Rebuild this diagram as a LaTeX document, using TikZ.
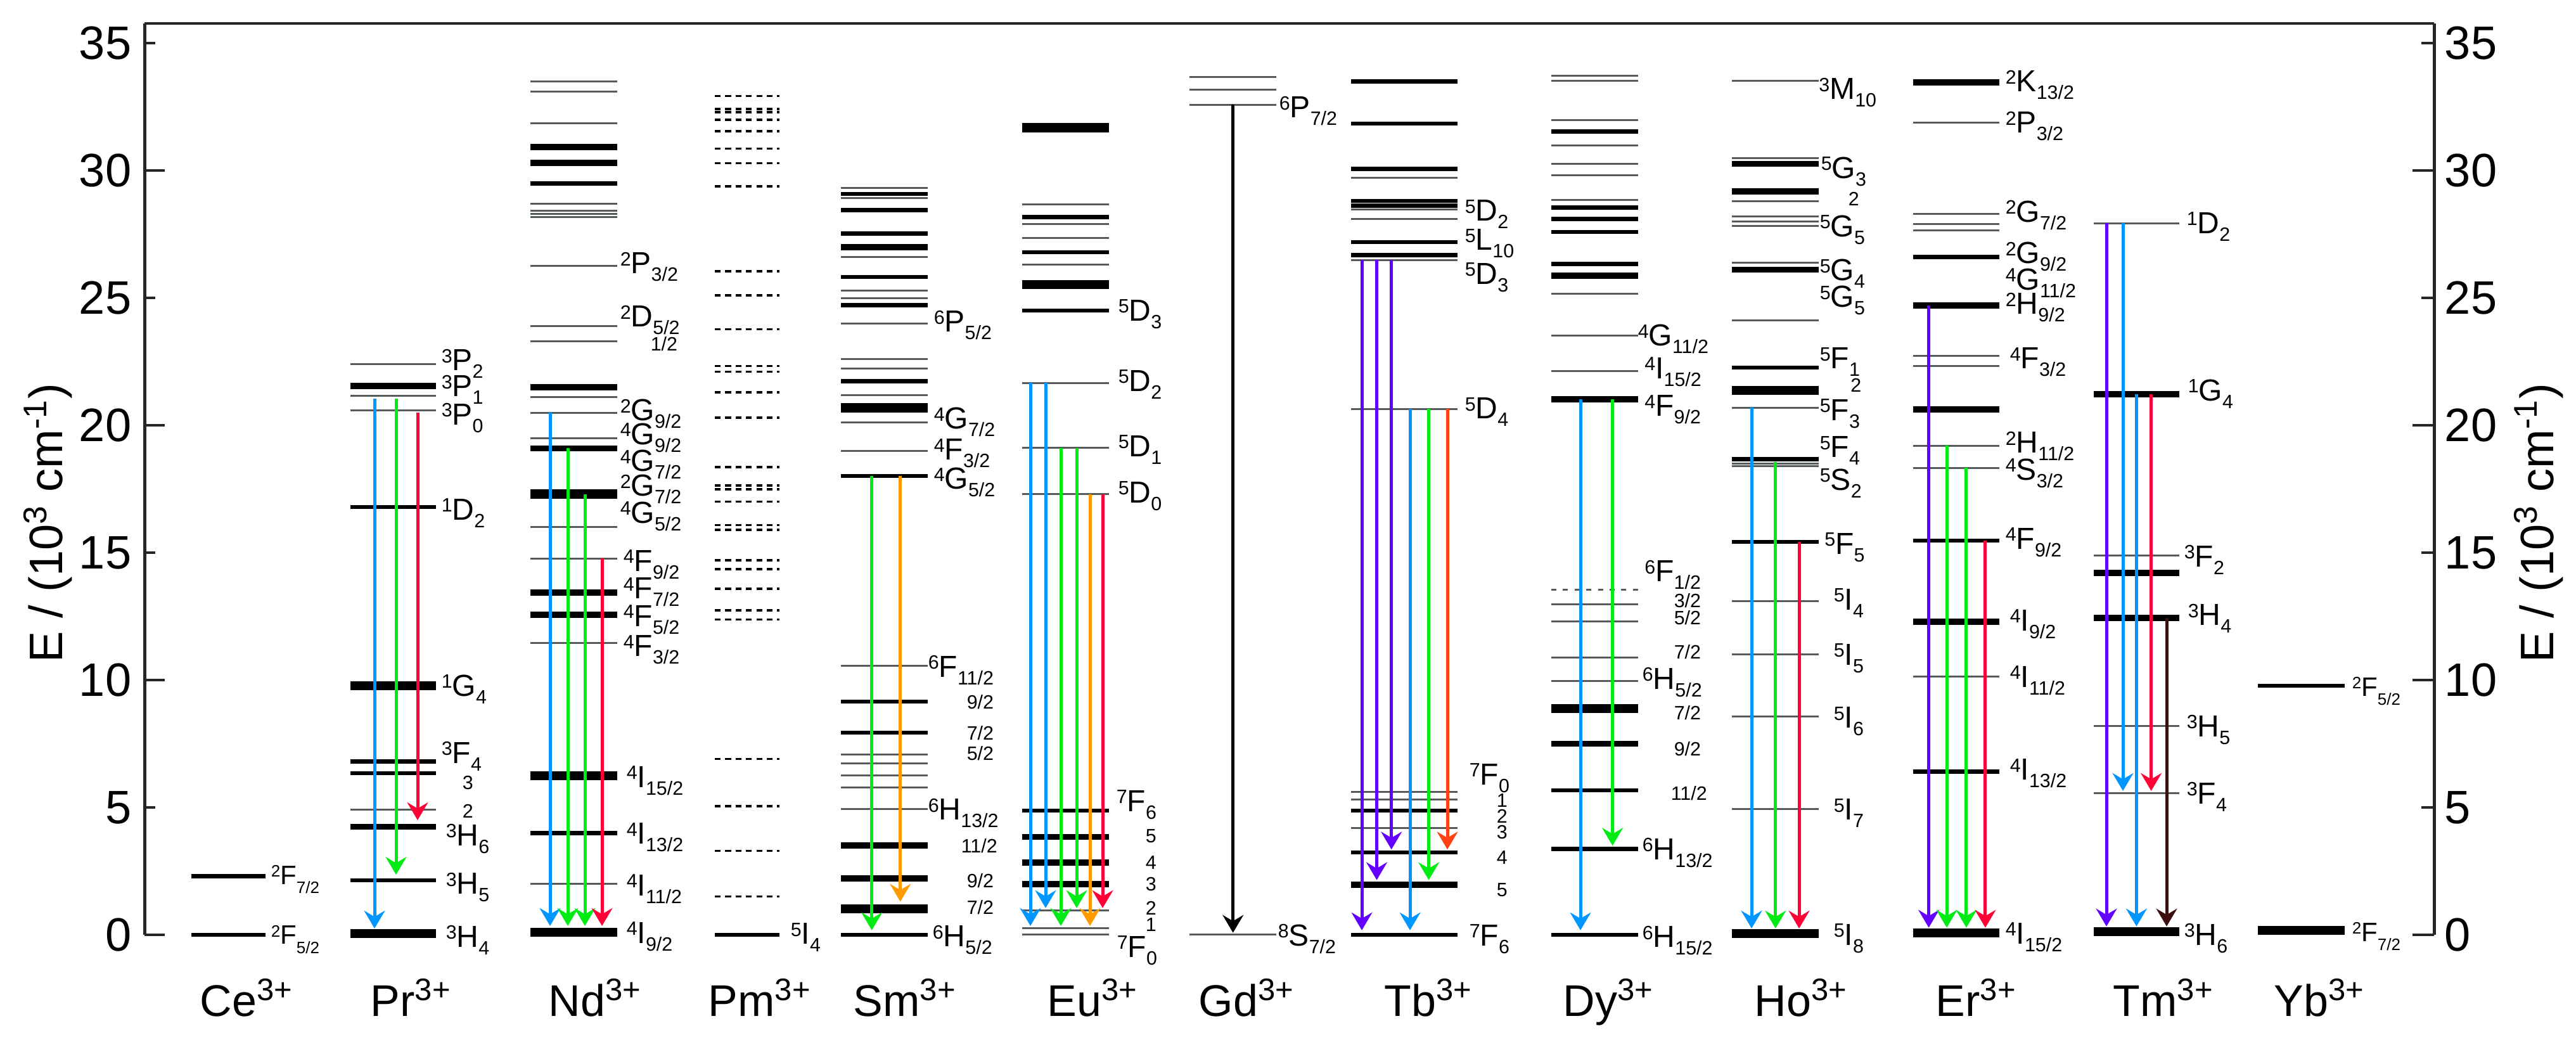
\documentclass[tikz,border=0pt]{standalone}
\usepackage{fontspec}
\setmainfont{Liberation Sans}
\usetikzlibrary{arrows.meta}
\definecolor{cBlue}{RGB}{0,150,255}
\definecolor{cGreen}{RGB}{0,235,20}
\definecolor{cRed}{RGB}{255,0,55}
\definecolor{cOrange}{RGB}{255,155,0}
\definecolor{cPurple}{RGB}{100,0,255}
\definecolor{cTbRed}{RGB}{255,65,20}
\definecolor{cBrown}{RGB}{60,15,10}
\definecolor{cThin}{RGB}{85,90,90}
\newcommand\supf{\fontsize{7.6}{8}\selectfont}
\newcommand\Lv[3]{\raisebox{3.1pt}{\supf #1}#2\raisebox{-3pt}{\supf #3}}
\newcommand\supfs{\fontsize{6.5}{7}\selectfont}
\newcommand\Lvs[3]{\raisebox{2.9pt}{\supfs #1}#2\raisebox{-3.6pt}{\supfs #3}}
\newcommand\lv[4]{\foreach \e in {#4}{\draw[#3] (#1,\e) -- (#2,\e);}}
\newcommand\ar[5]{\coordinate (#1s) at (#3,#4); \coordinate (#1e) at (#3,#5); \draw[arw,#2] (#1s) -- (#1e);}
\newcommand\lb[4][lab]{\node[#1] (#2) at (#3) {#4};}
\begin{document}
\begin{tikzpicture}[x=0.25pt, y=10.0475pt, line cap=butt,
 tn/.style={line width=0.75pt, draw=cThin},
 md/.style={line width=1.6pt, draw=black},
 tkk/.style={line width=2.4pt, draw=black},
 vt/.style={line width=3.6pt, draw=black},
 pmd/.style={line width=0.85pt, draw=black, dash pattern=on 2.3pt off 1.8pt},
 dyd/.style={line width=0.75pt, draw=cThin, dash pattern=on 2pt off 2.6pt},
 arw/.style={line width=1.25pt, -{Stealth[length=7pt, width=8.2pt, inset=2.4pt]}},
 ax/.style={line width=1.25pt, draw=black!85},
 tck/.style={line width=1pt, draw=black!85},
 lab/.style={anchor=base west, inner sep=0pt, font=\fontsize{12}{12}\selectfont, yshift=-4.3pt},
 labs/.style={anchor=base west, inner sep=0pt, font=\fontsize{10.5}{11}\selectfont, yshift=-3.75pt},
 num/.style={anchor=base west, inner sep=0pt, font=\supf, yshift=-2.7pt},
 ion/.style={anchor=base west, inner sep=0pt, font=\fontsize{17.5}{18}\selectfont},
 tlab/.style={inner sep=0pt, font=\fontsize{18.5}{19}\selectfont}]
\useasboundingbox (0,-4.404) rectangle (4065,36.700);
% axes
\draw[ax] (228,0) -- (228,35.78);
\draw[ax] (3841,0) -- (3841,35.78);
\draw[line width=1.05pt, draw=black!85] (228,35.78) -- (3841,35.78);
\foreach \e in {0,10,20,30}{\draw[tck] (228,\e) -- (260,\e); \draw[tck] (3807,\e) -- (3841,\e);}
\foreach \e in {5,15,25,35}{\draw[tck] (228,\e) -- (245,\e); \draw[tck] (3821,\e) -- (3841,\e);}
\foreach \e in {0,5,...,35}{\node[tlab, anchor=east] (tl\e) at (208,\e) {\e}; \node[tlab, anchor=west] (tr\e) at (3857,\e) {\e};}
\node[tlab, rotate=90] (ylabL) at (76,16.17) {E / (10\textsuperscript{3} cm\textsuperscript{-1})};
\node[tlab, rotate=90] (ylabR) at (4006,16.17) {E / (10\textsuperscript{3} cm\textsuperscript{-1})};
% Ce
\lv{301.5}{419}{md}{2.30,0}
% Pr
\lv{552.6}{688}{tn}{22.4,21.15,20.6,4.92}
\lv{552.6}{688}{md}{16.8,6.8,6.34,2.14}
\lv{552.6}{688}{tkk}{21.55,4.24}
\lv{552.6}{688}{vt}{9.78,0.05}
% Nd
\lv{837}{974}{tn}{33.5,33.1,31.85,28.7,28.42,28.3,28.18,26.25,23.9,23.3,21.1,20.5,19.5,16.0,14.77,11.45,1.99}
\lv{837}{974}{md}{29.5,3.99}
\lv{837}{974}{tkk}{30.93,30.3,21.5,19.1,13.44,12.57}
\lv{837}{974}{vt}{17.3,6.25,0.1}
% Pm
\lv{1128}{1230}{pmd}{32.93,32.42,32.30,32.0,31.55,30.86,30.29,29.38,26.05,25.1,23.78,22.33,22.1,21.3,20.3,18.36,17.64,17.49,17.0,16.08,15.9,14.7,14.36,13.58,12.74,12.38,6.9,5.05,3.3,1.51}
\lv{1128}{1230}{md}{0}
% Sm
\lv{1327}{1464}{tn}{29.31,28.92,26.61,25.3,24.99,24.0,22.6,22.23,21.19,20.11,19.0,10.55,7.09,6.72,6.25,5.78,4.94}
\lv{1327}{1464}{md}{29.09,28.45,27.53,25.83,24.72,21.73,18.02,9.15,7.93,0}
\lv{1327}{1464}{tkk}{27.0,3.51,2.22}
\lv{1327}{1464}{vt}{20.69,1.02}
% Eu
\lv{1612.5}{1750}{tn}{28.68,27.9,27.35,26.32,21.66,19.12,17.3,0.95,0.25,0}
\lv{1612.5}{1750}{md}{28.18,26.79,24.51,4.87}
\lv{1612.5}{1750}{tkk}{3.84,2.83,1.99}
\lv{1612.5}{1750}{vt}{31.69,25.53}
% Gd
\lv{1877}{2014}{tn}{33.67,33.17,32.59,0}
% Tb
\lv{2132}{2300}{tn}{29.72,28.47,28.1,26.49,20.65,5.6,5.32,4.19}
\lv{2132}{2300}{md}{33.5,31.85,30.07,28.81,28.63,27.2,26.68,4.87,3.23,0}
\lv{2132}{2300}{tkk}{1.96}
% Dy
\lv{2448}{2585}{tn}{33.72,33.52,31.98,30.99,30.27,29.82,28.84,25.17,23.53,22.14,12.97,12.3,10.89,9.97}
\lv{2448}{2585}{md}{31.54,28.55,28.1,27.6,26.34,5.67,3.37,0}
\lv{2448}{2585}{tkk}{25.88,21.02,7.5}
\lv{2448}{2585}{vt}{8.88}
\lv{2448}{2585}{dyd}{13.55}
% Ho
\lv{2733}{2870}{tn}{33.53,30.5,28.79,28.2,28.0,27.84,26.38,24.13,20.69,18.5,18.4,13.1,11.02,8.57,4.95}
\lv{2733}{2870}{md}{22.27,18.67,15.42}
\lv{2733}{2870}{tkk}{30.27,29.18,26.11}
\lv{2733}{2870}{vt}{21.37,0.05}
% Er
\lv{3018.6}{3155}{tn}{31.89,28.3,27.9,27.66,22.74,22.34,19.2,18.33,10.13}
\lv{3018.6}{3155}{md}{26.61,15.48,6.41}
\lv{3018.6}{3155}{tkk}{33.47,24.7,20.63,12.29}
\lv{3018.6}{3155}{vt}{0.07}
% Tm
\lv{3303.6}{3439}{tn}{27.93,14.9,8.19,5.57}
\lv{3303.6}{3439}{tkk}{21.23,14.2,12.44}
\lv{3303.6}{3439}{vt}{0.12}
% Yb
\lv{3563}{3700}{md}{9.78}
\lv{3563}{3700}{vt}{0.17}
% arrows
\ar{prB}{cBlue}{591}{21.05}{0.25}
\ar{prG}{cGreen}{625}{21.05}{2.36}
\ar{prR}{cRed}{659}{20.5}{4.5}
\ar{ndB}{cBlue}{868}{20.5}{0.35}
\ar{ndGa}{cGreen}{896}{19.1}{0.35}
\ar{ndGb}{cGreen}{923}{17.3}{0.35}
\ar{ndR}{cRed}{950}{14.77}{0.35}
\ar{smG}{cGreen}{1375.7}{18.02}{0.18}
\ar{smO}{cOrange}{1420.7}{18.02}{1.3}
\ar{euBa}{cBlue}{1626}{21.66}{0.35}
\ar{euBb}{cBlue}{1650}{21.66}{1.05}
\ar{euGa}{cGreen}{1674}{19.12}{0.35}
\ar{euGb}{cGreen}{1699}{19.12}{1.05}
\ar{euO}{cOrange}{1720}{17.3}{0.35}
\ar{euR}{cRed}{1740}{17.3}{1.05}
\ar{gdK}{black}{1945.7}{32.59}{0.08}
\ar{tbPa}{cPurple}{2149}{26.49}{0.18}
\ar{tbPb}{cPurple}{2172.5}{26.49}{2.15}
\ar{tbPc}{cPurple}{2195.7}{26.49}{3.35}
\ar{tbB}{cBlue}{2225}{20.65}{0.18}
\ar{tbG}{cGreen}{2254.6}{20.65}{2.15}
\ar{tbR}{cTbRed}{2284}{20.65}{3.35}
\ar{dyB}{cBlue}{2494}{21.02}{0.18}
\ar{dyG}{cGreen}{2544.6}{21.02}{3.5}
\ar{hoB}{cBlue}{2764}{20.69}{0.25}
\ar{hoG}{cGreen}{2801.8}{18.55}{0.25}
\ar{hoR}{cRed}{2839}{15.42}{0.25}
\ar{erP}{cPurple}{3043.6}{24.7}{0.28}
\ar{erGa}{cGreen}{3072}{19.2}{0.28}
\ar{erGb}{cGreen}{3102.9}{18.33}{0.28}
\ar{erR}{cRed}{3132.9}{15.48}{0.28}
\ar{tmP}{cPurple}{3324}{27.93}{0.33}
\ar{tmBa}{cBlue}{3350}{27.93}{5.65}
\ar{tmBb}{cBlue}{3371.4}{21.23}{0.33}
\ar{tmR}{cRed}{3394.6}{21.23}{5.65}
\ar{tmK}{cBrown}{3419}{12.44}{0.33}
% labels Ce
\lb[labs]{ceA}{427,2.35}{\Lvs{2}{F}{7/2}}
\lb[labs]{ceB}{427,0}{\Lvs{2}{F}{5/2}}
% Pr
\lb{prA}{696,22.58}{\Lv{3}{P}{2}}
\lb{prBl}{696,21.56}{\Lv{3}{P}{1}}
\lb{prC}{696,20.45}{\Lv{3}{P}{0}}
\lb{prD}{696,16.72}{\Lv{1}{D}{2}}
\lb{prE}{696,9.8}{\Lv{1}{G}{4}}
\lb{prF}{696,7.17}{\Lv{3}{F}{4}}
\lb[num]{prF3}{729,5.97}{3}
\lb[num]{prF2}{729,4.85}{2}
\lb{prH}{703,3.93}{\Lv{3}{H}{6}}
\lb{prI}{703,2.02}{\Lv{3}{H}{5}}
\lb{prJ}{703,-0.05}{\Lv{3}{H}{4}}
% Nd
\lb{ndA}{978,26.38}{\Lv{2}{P}{3/2}}
\lb{ndBl}{978,24.29}{\Lv{2}{D}{5/2}}
\lb[num]{ndB2}{1026,23.19}{1/2}
\lb{ndC}{978,20.62}{\Lv{2}{G}{9/2}}
\lb{ndD}{978,19.68}{\Lv{4}{G}{9/2}}
\lb{ndE}{978,18.63}{\Lv{4}{G}{7/2}}
\lb{ndF}{978,17.66}{\Lv{2}{G}{7/2}}
\lb{ndG}{978,16.6}{\Lv{4}{G}{5/2}}
\lb{ndH}{983,14.7}{\Lv{4}{F}{9/2}}
\lb{ndI}{983,13.62}{\Lv{4}{F}{7/2}}
\lb{ndJ}{983,12.54}{\Lv{4}{F}{5/2}}
\lb{ndK}{983,11.36}{\Lv{4}{F}{3/2}}
\lb{ndL}{988,6.22}{\Lv{4}{I}{15/2}}
\lb{ndM}{988,3.99}{\Lv{4}{I}{13/2}}
\lb{ndN}{988,1.97}{\Lv{4}{I}{11/2}}
\lb{ndO}{988,0.1}{\Lv{4}{I}{9/2}}
% Pm
\lb{pmA}{1247,0.06}{\Lv{5}{I}{4}}
% Sm
\lb{smA}{1473,24.09}{\Lv{6}{P}{5/2}}
\lb{smBl}{1473,20.29}{\Lv{4}{G}{7/2}}
\lb{smC}{1473,19.07}{\Lv{4}{F}{3/2}}
\lb{smD}{1473,17.93}{\Lv{4}{G}{5/2}}
\lb{smE}{1464,10.55}{\Lv{6}{F}{11/2}}
\lb[num]{smE9}{1525,9.13}{9/2}
\lb[num]{smE7}{1525,7.91}{7/2}
\lb[num]{smE5}{1525,7.13}{5/2}
\lb{smF}{1464,4.94}{\Lv{6}{H}{13/2}}
\lb[num]{smF11}{1516,3.48}{11/2}
\lb[num]{smF9}{1525,2.12}{9/2}
\lb[num]{smF7}{1525,1.08}{7/2}
\lb{smG}{1471,-0.04}{\Lv{6}{H}{5/2}}
% Eu
\lb{euA}{1764,24.53}{\Lv{5}{D}{3}}
\lb{euBl}{1764,21.77}{\Lv{5}{D}{2}}
\lb{euC}{1764,19.21}{\Lv{5}{D}{1}}
\lb{euD}{1764,17.39}{\Lv{5}{D}{0}}
\lb{euE}{1761,5.27}{\Lv{7}{F}{6}}
\lb[num]{euE5}{1807,3.88}{5}
\lb[num]{euE4}{1807,2.84}{4}
\lb[num]{euE3}{1807,1.99}{3}
\lb[num]{euE2}{1807,1.04}{2}
\lb[num]{euE1}{1807,0.4}{1}
\lb{euF}{1762,-0.45}{\Lv{7}{F}{0}}
% Gd
\lb{gdA}{2018,32.5}{\Lv{6}{P}{7/2}}
\lb{gdBl}{2016,0}{\Lv{8}{S}{7/2}}
% Tb
\lb{tbA}{2311,28.45}{\Lv{5}{D}{2}}
\lb{tbBl}{2311,27.3}{\Lv{5}{L}{10}}
\lb{tbC}{2311,25.98}{\Lv{5}{D}{3}}
\lb{tbD}{2311,20.69}{\Lv{5}{D}{4}}
\lb{tbE}{2318,6.32}{\Lv{7}{F}{0}}
\lb[num]{tbE1}{2361,5.27}{1}
\lb[num]{tbE2}{2361,4.66}{2}
\lb[num]{tbE3}{2361,4.05}{3}
\lb[num]{tbE4}{2361,3.04}{4}
\lb[num]{tbE5}{2361,1.77}{5}
\lb{tbF}{2318,0}{\Lv{7}{F}{6}}
% Dy
\lb{dyA}{2584,23.55}{\Lv{4}{G}{11/2}}
\lb{dyBl}{2594.6,22.27}{\Lv{4}{I}{15/2}}
\lb{dyC}{2594.6,20.79}{\Lv{4}{F}{9/2}}
\lb{dyD}{2594.6,14.29}{\Lv{6}{F}{1/2}}
\lb[num]{dyD3}{2641,13.12}{3/2}
\lb[num]{dyD5}{2641,12.44}{5/2}
\lb[num]{dyD7}{2641,11.1}{7/2}
\lb{dyE}{2591,10.08}{\Lv{6}{H}{5/2}}
\lb[num]{dyE7}{2641,8.72}{7/2}
\lb[num]{dyE9}{2641,7.3}{9/2}
\lb[num]{dyE11}{2636,5.55}{11/2}
\lb{dyF}{2591,3.38}{\Lv{6}{H}{13/2}}
\lb{dyG}{2591,-0.07}{\Lv{6}{H}{15/2}}
% Ho
\lb{hoA}{2869.6,33.23}{\Lv{3}{M}{10}}
\lb{hoBl}{2873,30.13}{\Lv{5}{G}{3}}
\lb[num]{hoB2}{2916,28.9}{2}
\lb{hoC}{2871,27.84}{\Lv{5}{G}{5}}
\lb{hoD}{2871,26.11}{\Lv{5}{G}{4}}
\lb{hoE}{2871,25.07}{\Lv{5}{G}{5}}
\lb{hoF}{2871,22.65}{\Lv{5}{F}{1}}
\lb[num]{hoF2}{2919.6,21.57}{2}
\lb{hoG}{2871,20.63}{\Lv{5}{F}{3}}
\lb{hoH}{2871,19.17}{\Lv{5}{F}{4}}
\lb{hoI}{2871,17.89}{\Lv{5}{S}{2}}
\lb{hoJ}{2878.6,15.38}{\Lv{5}{F}{5}}
\lb{hoK}{2893,13.19}{\Lv{5}{I}{4}}
\lb{hoL}{2893,11.02}{\Lv{5}{I}{5}}
\lb{hoM}{2893,8.55}{\Lv{5}{I}{6}}
\lb{hoN}{2893,4.94}{\Lv{5}{I}{7}}
\lb{hoO}{2893,0.02}{\Lv{5}{I}{8}}
% Er
\lb{erA}{3164,33.53}{\Lv{2}{K}{13/2}}
\lb{erBl}{3164,31.91}{\Lv{2}{P}{3/2}}
\lb{erC}{3164,28.41}{\Lv{2}{G}{7/2}}
\lb{erD}{3164,26.79}{\Lv{2}{G}{9/2}}
\lb{erE}{3164,25.75}{\Lv{4}{G}{11/2}}
\lb{erF}{3164,24.8}{\Lv{2}{H}{9/2}}
\lb{erG}{3171,22.65}{\Lv{4}{F}{3/2}}
\lb{erH}{3164,19.34}{\Lv{2}{H}{11/2}}
\lb{erI}{3164,18.29}{\Lv{4}{S}{3/2}}
\lb{erJ}{3164,15.58}{\Lv{4}{F}{9/2}}
\lb{erK}{3171,12.37}{\Lv{4}{I}{9/2}}
\lb{erL}{3171,10.15}{\Lv{4}{I}{11/2}}
\lb{erM}{3171,6.5}{\Lv{4}{I}{13/2}}
\lb{erN}{3164,0.07}{\Lv{4}{I}{15/2}}
% Tm
\lb{tmA}{3450,27.97}{\Lv{1}{D}{2}}
\lb{tmBl}{3452,21.4}{\Lv{1}{G}{4}}
\lb{tmC}{3446,14.88}{\Lv{3}{F}{2}}
\lb{tmD}{3452,12.57}{\Lv{3}{H}{4}}
\lb{tmE}{3450,8.21}{\Lv{3}{H}{5}}
\lb{tmF}{3450,5.57}{\Lv{3}{F}{4}}
\lb{tmG}{3446,0.02}{\Lv{3}{H}{6}}
% Yb
\lb[labs]{ybA}{3711,9.75}{\Lvs{2}{F}{5/2}}
\lb[labs]{ybBl}{3711,0.12}{\Lvs{2}{F}{7/2}}
% ion names
\node[ion] (ce) at (315,-3.21) {Ce\textsuperscript{3+}};
\node[ion] (pr) at (584,-3.21) {Pr\textsuperscript{3+}};
\node[ion] (nd) at (865,-3.21) {Nd\textsuperscript{3+}};
\node[ion] (pm) at (1117,-3.21) {Pm\textsuperscript{3+}};
\node[ion] (sm) at (1346,-3.21) {Sm\textsuperscript{3+}};
\node[ion] (eu) at (1652,-3.21) {Eu\textsuperscript{3+}};
\node[ion] (gd) at (1891,-3.21) {Gd\textsuperscript{3+}};
\node[ion] (tb) at (2184,-3.21) {Tb\textsuperscript{3+}};
\node[ion] (dy) at (2466,-3.21) {Dy\textsuperscript{3+}};
\node[ion] (ho) at (2768,-3.21) {Ho\textsuperscript{3+}};
\node[ion] (er) at (3054,-3.21) {Er\textsuperscript{3+}};
\node[ion] (tm) at (3334,-3.21) {Tm\textsuperscript{3+}};
\node[ion] (yb) at (3588,-3.21) {Yb\textsuperscript{3+}};
\end{tikzpicture}
\end{document}
